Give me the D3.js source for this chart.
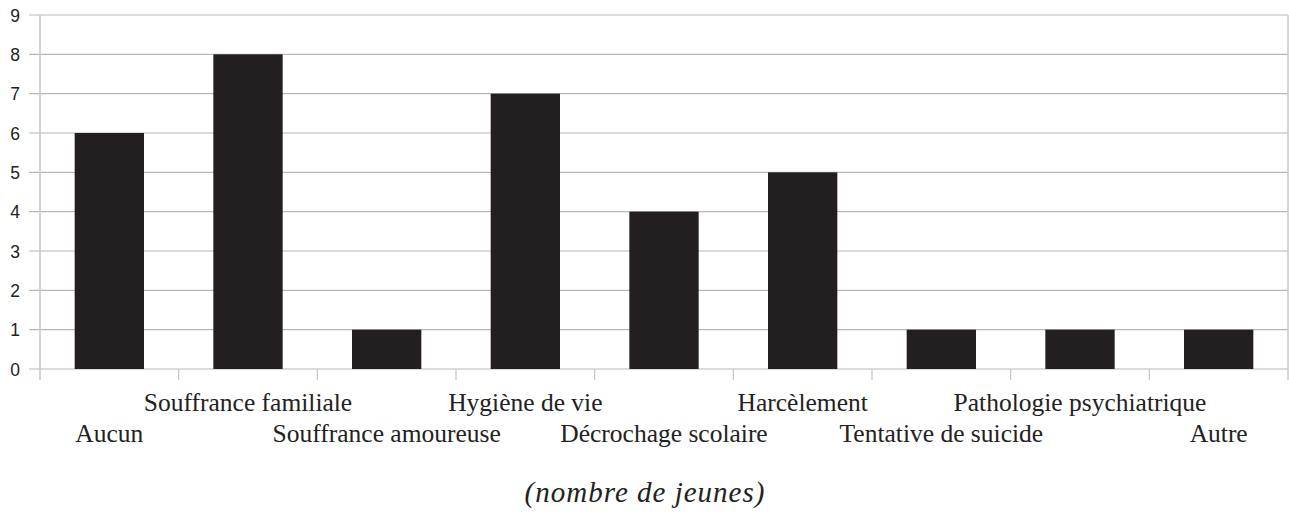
<!DOCTYPE html>
<html><head><meta charset="utf-8">
<script src="https://cdn.jsdelivr.net/npm/d3@7"></script>
<style>body{margin:0;background:#fff}svg{display:block}</style>
</head><body>
<svg id="c" width="1289" height="515"></svg>
<script>
const categories = ["Aucun","Souffrance familiale","Souffrance amoureuse","Hygiène de vie","Décrochage scolaire","Harcèlement","Tentative de suicide","Pathologie psychiatrique","Autre"];
const values = [6,8,1,7,4,5,1,1,1];
const yTicks = [0,1,2,3,4,5,6,7,8,9];
const axisTitle = "(nombre de jeunes)";

const svg = d3.select("#c");
const L = 40, R = 1288, T = 15, B = 369;
const x = d3.scaleBand().domain(categories).range([L, R]).paddingInner(0.5).paddingOuter(0.25);
const band = d3.scaleBand().domain(categories).range([L, R]);
const y = d3.scaleLinear().domain([0, 9]).range([B, T]);

// gridlines
svg.append("g").selectAll("line").data(yTicks).join("line")
  .attr("x1", 29).attr("x2", R).attr("y1", d => y(d)).attr("y2", d => y(d))
  .attr("stroke", "#b8b8b8").attr("stroke-width", 1.2);

// y labels
svg.append("g").selectAll("text").data(yTicks).join("text")
  .attr("x", 20).attr("y", d => y(d) + 6.5).attr("text-anchor", "end")
  .attr("font-family", "Liberation Sans, Arial, sans-serif").attr("font-size", 17.5)
  .attr("fill", "#222").text(d => d);

// bars
svg.append("g").selectAll("rect").data(values).join("rect")
  .attr("x", (d, i) => x(categories[i])).attr("width", x.bandwidth())
  .attr("y", d => y(d)).attr("height", d => y(0) - y(d))
  .attr("fill", "#231f20");

// vertical axis lines
svg.append("line").attr("x1", L).attr("x2", L).attr("y1", T).attr("y2", 380)
  .attr("stroke", "#c4c4c8").attr("stroke-width", 1.5);
svg.append("line").attr("x1", R).attr("x2", R).attr("y1", T).attr("y2", 380)
  .attr("stroke", "#c8c8c8").attr("stroke-width", 1.5);

// category ticks
svg.append("g").selectAll("line").data(categories.slice(1)).join("line")
  .attr("x1", d => band(d)).attr("x2", d => band(d)).attr("y1", B).attr("y2", 380)
  .attr("stroke", "#c4c4c8").attr("stroke-width", 1.2);

// x labels (staggered)
svg.append("g").selectAll("text").data(categories).join("text")
  .attr("x", d => band(d) + band.bandwidth() / 2)
  .attr("y", (d, i) => i % 2 === 1 ? 411 : 442)
  .attr("text-anchor", "middle")
  .attr("font-family", "Liberation Serif, Times New Roman, serif").attr("font-size", 25.5)
  .attr("fill", "#222").text(d => d);

// axis title
svg.append("text").attr("x", 645).attr("y", 502).attr("text-anchor", "middle")
  .attr("font-family", "Liberation Serif, Times New Roman, serif").attr("font-style", "italic")
  .attr("font-size", 29).attr("letter-spacing", 1).attr("fill", "#222").text(axisTitle);
</script>
</body></html>
